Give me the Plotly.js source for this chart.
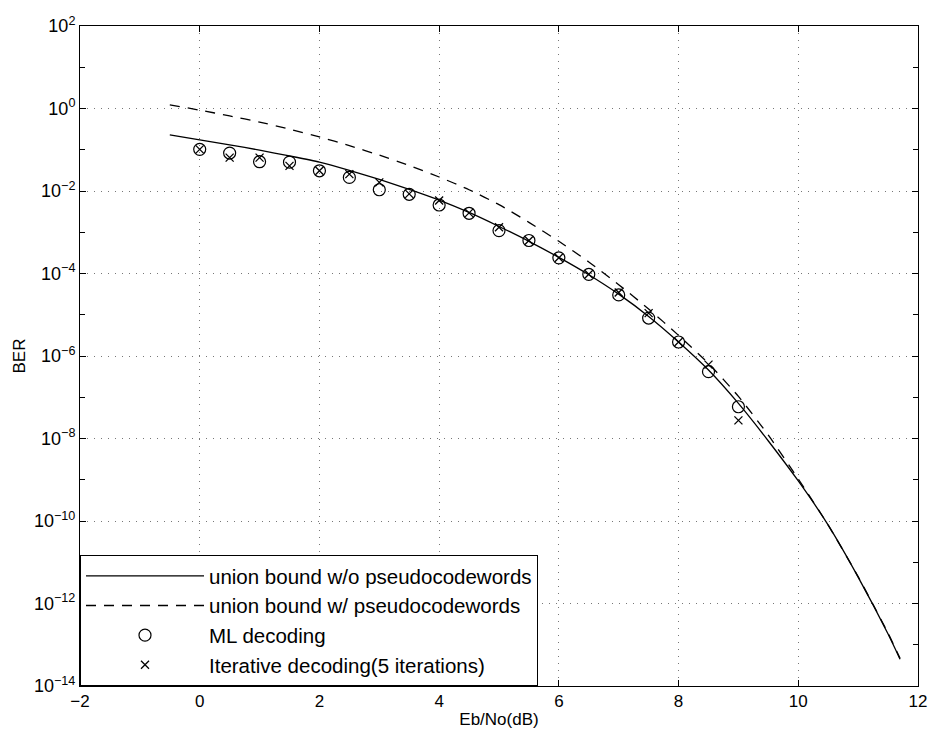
<!DOCTYPE html>
<html>
<head>
<meta charset="utf-8">
<script src="https://cdn.plot.ly/plotly-3.0.1.min.js"></script>
<style>html,body{margin:0;padding:0;background:#fff;}#chart{width:929px;height:734px;}</style>
</head>
<body>
<div id="chart"></div>
<script>
// Union bound without pseudocodewords (solid): x in dB, log10(BER)
const boundX = [-0.5, 0, 0.5, 1, 1.5, 2, 2.5, 3, 3.5, 4, 4.5, 5, 5.5, 6, 6.5, 7, 7.5, 8, 8.5, 9, 9.5, 10, 10.5, 11, 11.5, 11.7];
const boundLog = [-0.64, -0.76, -0.88, -1.01, -1.15, -1.30, -1.50, -1.72, -1.96, -2.22, -2.52, -2.86, -3.22, -3.61, -4.03, -4.50, -5.04, -5.66, -6.34, -7.15, -8.06, -9.03, -10.1, -11.36, -12.74, -13.35];
// Union bound with pseudocodewords (dashed)
const pseudoX = [-0.5, 0, 0.5, 1, 1.5, 2, 2.5, 3, 3.5, 4, 4.5, 5, 5.5, 6, 6.5, 7, 7.5, 8, 8.5, 9, 9.5, 10, 10.5, 11, 11.5, 11.7];
const pseudoLog = [0.09, -0.04, -0.18, -0.33, -0.50, -0.69, -0.90, -1.13, -1.38, -1.66, -1.97, -2.33, -2.76, -3.22, -3.72, -4.27, -4.86, -5.50, -6.18, -6.98, -7.92, -8.98, -10.1, -11.35, -12.72, -13.33];
// Simulation points
const simX = [0, 0.5, 1, 1.5, 2, 2.5, 3, 3.5, 4, 4.5, 5, 5.5, 6, 6.5, 7, 7.5, 8, 8.5, 9];
const mlLog = [-0.99, -1.08, -1.29, -1.30, -1.51, -1.67, -1.97, -2.08, -2.34, -2.54, -2.96, -3.2, -3.62, -4.02, -4.52, -5.08, -5.66, -6.38, -7.23];
const iterLog = [-0.99, -1.19, -1.19, -1.39, -1.51, -1.59, -1.79, -2.07, -2.23, -2.53, -2.88, -3.2, -3.62, -4.02, -4.46, -4.96, -5.66, -6.21, -7.56];

const names = ['union bound w/o pseudocodewords', 'union bound w/ pseudocodewords', 'ML decoding', 'Iterative decoding(5 iterations)'];
const yTickExp = [2, 0, -2, -4, -6, -8, -10, -12, -14];
const yMinorExp = [1, -1, -3, -5, -7, -9, -11, -13];
const xTicks = [-2, 0, 2, 4, 6, 8, 10, 12];

const pow = a => a.map(v => Math.pow(10, v));
const fmtExp = e => '10<sup>' + (e < 0 ? '\u2212' + (-e) : e) + '</sup>';
const fmtX = v => (v < 0 ? '\u2212' + (-v) : String(v));

const font = {family: '"Liberation Sans", Arial, Helvetica, sans-serif', color: '#000'};

const traces = [
  {x: boundX, y: pow(boundLog), name: names[0], mode: 'lines', line: {color: '#000', width: 1.3, shape: 'spline', smoothing: 0.6}},
  {x: pseudoX, y: pow(pseudoLog), name: names[1], mode: 'lines', line: {color: '#000', width: 1.3, dash: '10px,8px', shape: 'spline', smoothing: 0.6}},
  {x: simX, y: pow(mlLog), name: names[2], mode: 'markers', marker: {symbol: 'circle-open', size: 12, color: '#000', line: {width: 1.2, color: '#000'}}},
  {x: simX, y: pow(iterLog), name: names[3], mode: 'markers', marker: {symbol: 'x-thin-open', size: 8, color: '#000', line: {width: 1.3, color: '#000'}}}
];

const layout = {
  width: 929, height: 734,
  margin: {l: 80, r: 11, t: 26, b: 48},
  paper_bgcolor: '#fff', plot_bgcolor: '#fff',
  font: Object.assign({size: 17}, font),
  showlegend: true,
  legend: {
    x: 0, y: 0, xanchor: 'left', yanchor: 'bottom',
    bgcolor: '#fff', bordercolor: '#000', borderwidth: 1,
    font: Object.assign({size: 20.5}, font),
    itemwidth: 118, tracegroupgap: 0
  },
  xaxis: {
    range: [-2, 12], tickvals: xTicks, ticktext: xTicks.map(fmtX),
    ticks: 'inside', ticklen: 6, tickcolor: '#000',
    showline: true, linecolor: '#000', linewidth: 1, mirror: 'ticks',
    showgrid: true, gridcolor: '#777', griddash: '1px,6px', gridwidth: 1,
    zeroline: false,
    tickfont: Object.assign({size: 17}, font),
    title: {text: 'Eb/No(dB)', font: Object.assign({size: 17}, font), standoff: 2}
  },
  yaxis: {
    type: 'log', range: [-14, 2],
    tickvals: pow(yTickExp), ticktext: yTickExp.map(fmtExp),
    ticks: 'inside', ticklen: 6, tickcolor: '#000',
    showline: true, linecolor: '#000', linewidth: 1, mirror: 'ticks',
    showgrid: true, gridcolor: '#777', griddash: '1px,6px', gridwidth: 1,
    zeroline: false,
    minor: {tickvals: pow(yMinorExp), ticks: 'inside', ticklen: 5, tickcolor: '#000', showgrid: false},
    tickfont: Object.assign({size: 18}, font),
    title: {text: 'BER', font: Object.assign({size: 17}, font), standoff: 4}
  }
};

Plotly.newPlot('chart', traces, layout, {displayModeBar: false, staticPlot: true});
</script>
</body>
</html>
